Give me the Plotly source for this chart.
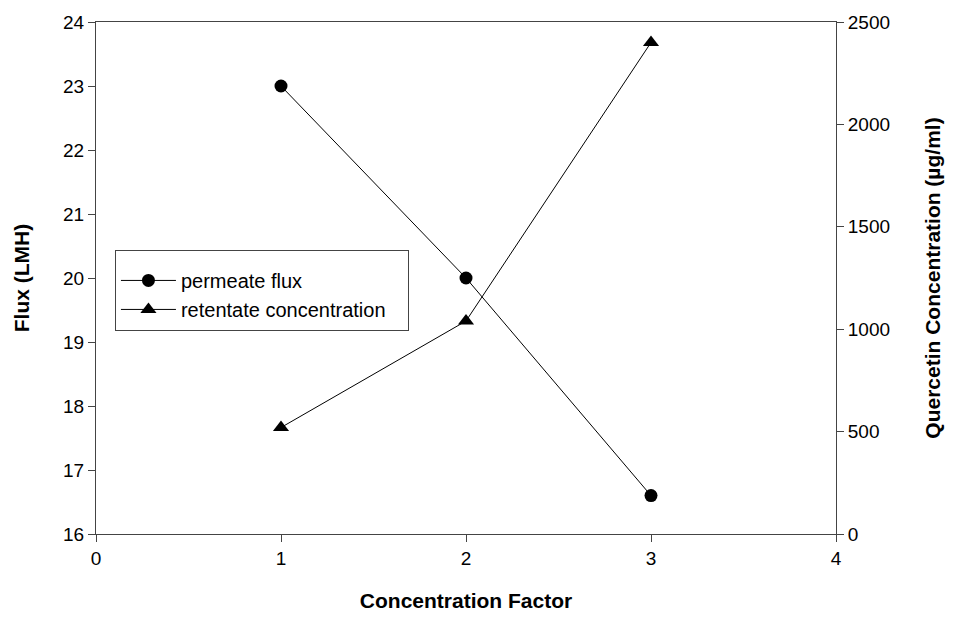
import plotly.graph_objects as go

conc_factor = [1, 2, 3]
permeate_flux = [23.0, 20.0, 16.6]
retentate_conc = [520, 1040, 2400]

FONT = "Liberation Sans, Arial, sans-serif"
NB = "\u00a0"

fig = go.Figure()
fig.add_trace(go.Scatter(
    x=conc_factor, y=permeate_flux, name="permeate flux",
    mode="lines+markers",
    line=dict(color="black", width=1),
    marker=dict(symbol="circle", size=13, color="black"),
))
fig.add_trace(go.Scatter(
    x=conc_factor, y=retentate_conc, name="retentate concentration" + NB * 3,
    mode="lines+markers", yaxis="y2",
    line=dict(color="black", width=1),
    marker=dict(symbol="triangle-up", size=14, color="black"),
))

axis_common = dict(
    showgrid=False, zeroline=False, showline=True, linecolor="#444", linewidth=1,
    ticks="outside", ticklen=7, tickcolor="#444", tickwidth=1,
    tickfont=dict(family=FONT, size=19, color="black"),
)

fig.update_layout(
    width=953, height=621,
    margin=dict(l=96, r=115, t=21, b=87),
    paper_bgcolor="white", plot_bgcolor="white",
    font=dict(family=FONT, color="black"),
    xaxis=dict(range=[0, 4], dtick=1, mirror=True,
               title=dict(text="<b>Concentration Factor</b>",
                          font=dict(family=FONT, size=21), standoff=25),
               **axis_common),
    yaxis=dict(range=[16, 24], dtick=1,
               title=dict(text="<b>Flux (LMH)</b>",
                          font=dict(family=FONT, size=21), standoff=27),
               **axis_common),
    yaxis2=dict(range=[0, 2500], dtick=500, overlaying="y", side="right",
                title=dict(text="<b>Quercetin Concentration (µg/ml)</b>",
                           font=dict(family=FONT, size=21), standoff=36),
                **axis_common),
    legend=dict(x=0.0256, y=0.5556, xanchor="left", yanchor="top",
                bordercolor="#444", borderwidth=1, bgcolor="white",
                font=dict(family=FONT, size=20),
                title=dict(text=NB, font=dict(size=8)),
                itemwidth=55),
    showlegend=True,
)

fig.write_html("out.html")
